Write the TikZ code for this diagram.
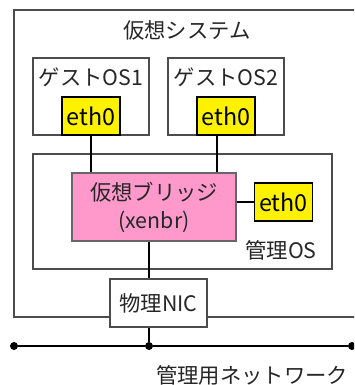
\documentclass[tikz,border=0pt]{standalone}
\usepackage{fontspec}
\setmainfont{Noto Sans CJK JP}
\newcommand{\px}{0.75pt}
\tikzset{
  box/.style={draw=black!70,line width=0.8pt,fill=white,inner sep=0pt},
  nic/.style={draw=black,line width=1.2pt,fill=yellow,inner sep=0pt,minimum width=58*\px,minimum height=38*\px,font=\fontsize{17.5}{20}\selectfont},
  txt/.style={text=black!85,inner sep=0pt,font=\fontsize{16}{19}\selectfont},
  wire/.style={line width=0.8pt},
  dot/.style={circle,fill=black,inner sep=0pt,minimum size=8*\px}
}
\begin{document}
\begin{tikzpicture}[x=\px,y=-\px]
\useasboundingbox (0,0) rectangle (354,385);
\clip (0,0) rectangle (354,385);
\draw[draw=black!70,line width=0.8pt] (14,10) rectangle (380,317);
\node[txt] (title) at (187,30) {仮想システム};
\node[box,minimum width=116*\px,minimum height=77*\px] (guest1) at (91,96.5) {};
\node[box,minimum width=116*\px,minimum height=77*\px] (guest2) at (226,96.5) {};
\node[txt] (g1lbl) at (91,77) {ゲストOS1};
\node[txt] (g2lbl) at (226,77) {ゲストOS2};
\node[nic,line width=0.9pt] (eth1) at (91,116) {eth0};
\node[nic,line width=0.9pt] (eth2) at (226,116) {eth0};
\node[box,minimum width=299*\px,minimum height=115*\px] (dom0) at (182.5,211.5) {};
\node[txt] (dom0lbl) at (281,250) {管理OS};
\node[box,draw=black!60,fill={rgb,255:red,255;green,153;blue,204},minimum width=164*\px,minimum height=68*\px,align=center,font=\fontsize{16}{21}\selectfont,text=black!85] (xenbr) at (154,207) {仮想ブリッジ\\(xenbr)};
\node[nic] (eth3) at (283.5,202) {eth0};
\coordinate (b2) at (217,0);
\coordinate (b0) at (149,0);
\draw[wire] (eth1.south) -- (eth1.south |- xenbr.north);
\draw[wire] (eth2.south -| b2) -- (xenbr.north -| b2);
\draw[line width=1.2pt] (xenbr.east |- eth3.west) -- (eth3.west);
\node[box,minimum width=97*\px,minimum height=48*\px] (phys) at (158.5,303) {};
\node[txt] (physlbl) at (158.5,303) {物理NIC};
\draw[wire] (xenbr.south -| b0) -- (phys.north -| b0);
\node[dot] (n0) at (14,346) {};
\node[dot] (n1) at (149,346) {};
\node[dot] (n2) at (352,346) {};
\draw[wire] (n0) -- (n1) -- (n2);
\draw[wire] (phys.south -| b0) -- (n1);
\node[txt] (netlbl) at (252,375) {管理用ネットワーク};
\end{tikzpicture}
\end{document}
